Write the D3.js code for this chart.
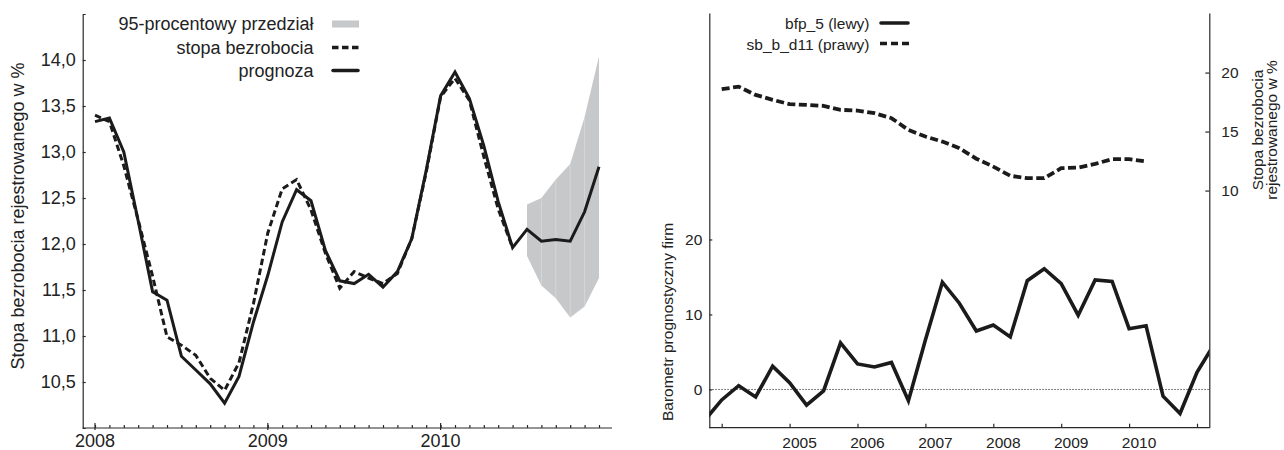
<!DOCTYPE html>
<html><head><meta charset="utf-8">
<script src="https://cdn.jsdelivr.net/npm/d3@7"></script>
<style>
html,body{margin:0;padding:0;background:#fff;}
svg{display:block;font-family:"Liberation Sans",Arial,sans-serif;}
</style></head>
<body>
<svg id="c" width="1284" height="450"></svg>
<script>
// ---------- LEFT CHART DATA (monthly, Jan 2008 .. Dec 2010) ----------
const monthsL = d3.range(36); // month index 0 = Jan 2008 ... 35 = Dec 2010
const yearTicksL = ["2008","2009","2010"];
const stopaBezrobocia = [13.40,13.33,12.85,12.26,11.65,10.99,10.90,10.79,10.54,10.41,10.71,11.35,
  12.12,12.60,12.70,12.37,11.90,11.52,11.70,11.63,11.57,11.68,12.06,12.78,
  13.60,13.80,13.56,12.95,12.38,11.96];
const prognoza = [13.33,13.37,13.00,12.25,11.48,11.39,10.78,10.63,10.48,10.27,10.56,11.15,
  11.66,12.24,12.59,12.47,11.93,11.60,11.57,11.67,11.53,11.70,12.06,12.80,
  13.61,13.87,13.58,13.07,12.46,11.96,12.16,12.03,12.05,12.03,12.35,12.84];
const bandStart = 30; // band begins at July 2010
const bandUpper = [12.43,12.50,12.70,12.87,13.38,14.04];
const bandLower = [11.87,11.55,11.41,11.20,11.32,11.63];
const yTicksL = [10.5,11.0,11.5,12.0,12.5,13.0,13.5,14.0];
const legendL = ["95-procentowy przedział","stopa bezrobocia","prognoza"];

// ---------- RIGHT CHART DATA (quarterly) ----------
const bfpStart = 2003.75;
const bfp5 = [-4.1,-1.4,0.5,-1.0,3.1,0.9,-2.1,-0.2,6.2,3.4,3.0,3.6,-1.5,6.6,14.3,11.5,7.8,
  8.6,7.0,14.5,16.1,14.1,9.9,14.6,14.4,8.1,8.5,-0.9,-3.2,2.3,6.0];
const sbStart = 2004.0;
const sbBd11 = [18.59,18.81,18.11,17.69,17.32,17.26,17.18,16.84,16.78,16.56,16.14,15.14,14.58,14.15,13.59,12.70,
  12.03,11.25,11.05,11.05,11.90,11.95,12.26,12.66,12.66,12.46];
const yearTicksR = [2004,2005,2006,2007,2008,2009,2010,2011];
const yearLabelsR = ["","2005","2006","2007","2008","2009","2010",""];
const yTicksRLeft = [0,10,20];
const yTicksRRight = [10,15,20];
const legendR = ["bfp_5 (lewy)","sb_b_d11 (prawy)"];

const svg = d3.select("#c");
const INK = "#1b1b1b", AX = "#2a2a2a", TXT = "#222";

// ================= LEFT CHART =================
{
  const x = d3.scaleLinear().domain([0, 36]).range([95, 613.4]);
  const y = d3.scaleLinear().domain([10, 14.5]).range([428, 14]);
  const g = svg.append("g");
  const fs = 18;

  // band
  const bandData = bandUpper.map((u,i)=>({d:monthsL[bandStart+i], u, l:bandLower[i]}));
  g.append("path").datum(bandData)
    .attr("d", d3.area().x(d=>x(d.d)).y0(d=>y(d.l)).y1(d=>y(d.u)))
    .attr("fill","#c7c8ca");
  g.selectAll("line.seam").data(bandData.slice(1,-1)).join("line")
    .attr("x1",d=>x(d.d)).attr("x2",d=>x(d.d)).attr("y1",d=>y(d.u)+1).attr("y2",d=>y(d.l)-1)
    .attr("stroke","#fff").attr("stroke-width",0.6).attr("stroke-opacity",0.45);

  // axes
  const ya = d3.axisLeft(y).tickValues(yTicksL).tickSizeInner(-3).tickSizeOuter(-3).tickPadding(7)
    .tickFormat(d=>d3.format(".1f")(d).replace(".",","));
  const yg = g.append("g").attr("transform","translate(82.7,0)").call(ya);
  yg.selectAll("text").attr("font-size",fs).attr("fill",TXT).attr("font-family","Liberation Sans, Arial");
  yg.selectAll("path,line").attr("stroke",AX).attr("stroke-width",1.2);

  const xa = d3.axisBottom(x).tickValues(monthsL).tickSizeInner(-3).tickSizeOuter(0).tickFormat("");
  const xg = g.append("g").attr("transform","translate(0,428)").call(xa);
  xg.selectAll("path,line").attr("stroke",AX).attr("stroke-width",1.2);
  xg.select("path.domain").attr("d", `M82.7,0H612`);
  // year ticks (longer) and labels
  const yrs = monthsL.filter(d=>d%12===0);
  xg.selectAll("line.yr").data(yrs).join("line").attr("class","yr")
    .attr("x1",d=>x(d)).attr("x2",d=>x(d)).attr("y1",-5).attr("y2",2)
    .attr("stroke",AX).attr("stroke-width",1.2);
  xg.selectAll("text.yl").data(yrs).join("text").attr("class","yl")
    .attr("x",d=>x(d)).attr("y",19).attr("font-size",fs).attr("fill",TXT)
    .text((d,i)=>yearTicksL[i]);

  // lines
  const line = d3.line().x((d,i)=>x(monthsL[i])).y(d=>y(d));
  g.append("path").datum(stopaBezrobocia).attr("d",line).attr("fill","none")
    .attr("stroke",INK).attr("stroke-width",3).attr("stroke-dasharray","6.5,3.5");
  g.append("path").datum(prognoza).attr("d",line).attr("fill","none")
    .attr("stroke",INK).attr("stroke-width",3);

  // y title
  g.append("text").attr("transform","translate(24,216) rotate(-90)")
    .attr("text-anchor","middle").attr("font-size",18).attr("fill",TXT)
    .text("Stopa bezrobocia rejestrowanego w %");

  // legend
  const rows = [24, 47.5, 70.5];
  const lg = g.append("g");
  legendL.forEach((t,i)=>{
    lg.append("text").attr("x",313.5).attr("y",rows[i]).attr("dy","0.35em")
      .attr("text-anchor","end").attr("font-size",18).attr("fill",TXT).text(t);
  });
  lg.append("rect").attr("x",332).attr("y",rows[0]-3.5).attr("width",27).attr("height",7).attr("fill","#c7c8ca");
  lg.append("line").attr("x1",332).attr("x2",359).attr("y1",rows[1]).attr("y2",rows[1])
    .attr("stroke",INK).attr("stroke-width",3.5).attr("stroke-dasharray","6.5,3.5");
  lg.append("line").attr("x1",333).attr("x2",358).attr("y1",rows[2]).attr("y2",rows[2])
    .attr("stroke",INK).attr("stroke-width",3.5).attr("stroke-linecap","round");
}

// ================= RIGHT CHART =================
{
  const L = 709.3, R = 1209.3, T = 13, B = 427.7;
  const x = d3.scaleLinear().domain([2004, 2005]).range([721.7, 789.6]);
  const yl = d3.scaleLinear().domain([-5.1, 50.2]).range([B, T]);
  const yr = d3.scaleLinear().domain([-10.1, 25.05]).range([B, T]);
  const g = svg.append("g");
  const fs = 15.5;

  svg.append("defs").append("clipPath").attr("id","clipR")
    .append("rect").attr("x",L).attr("y",T).attr("width",R-L).attr("height",B-T);

  // zero line
  g.append("line").attr("x1",L).attr("x2",R).attr("y1",yl(0)).attr("y2",yl(0))
    .attr("stroke","#555").attr("stroke-width",1).attr("stroke-dasharray","1.5,1.5");

  // axes
  const la = d3.axisLeft(yl).tickValues(yTicksRLeft).tickSizeInner(-3).tickSizeOuter(0).tickPadding(7);
  const lgA = g.append("g").attr("transform",`translate(${L},0)`).call(la);
  const ra = d3.axisRight(yr).tickValues(yTicksRRight).tickSizeInner(-4).tickSizeOuter(0).tickPadding(12);
  const rgA = g.append("g").attr("transform",`translate(${R},0)`).call(ra);
  const ba = d3.axisBottom(x).tickValues(yearTicksR).tickSizeInner(-4).tickSizeOuter(0).tickFormat("");
  const bgA = g.append("g").attr("transform",`translate(0,${B})`).call(ba);
  bgA.select("path.domain").attr("d",`M${L},0H${R}`);
  [lgA,rgA,bgA].forEach(a=>{
    a.selectAll("path,line").attr("stroke",AX).attr("stroke-width",1.2);
    a.selectAll("text").attr("font-size",fs).attr("fill",TXT).attr("font-family","Liberation Sans, Arial");
  });
  bgA.selectAll("text.yl").data(yearTicksR).join("text").attr("class","yl")
    .attr("x",d=>x(d)+10).attr("y",20).attr("text-anchor","middle")
    .attr("font-size",fs).attr("fill",TXT).text((d,i)=>yearLabelsR[i]);

  const cg = g.append("g").attr("clip-path","url(#clipR)");
  cg.append("path").datum(sbBd11)
    .attr("d", d3.line().x((d,i)=>x(sbStart+i*0.25)).y(d=>yr(d)))
    .attr("fill","none").attr("stroke",INK).attr("stroke-width",3.8).attr("stroke-dasharray","8,3.5");
  cg.append("path").datum(bfp5)
    .attr("d", d3.line().x((d,i)=>x(bfpStart+i*0.25)).y(d=>yl(d)))
    .attr("fill","none").attr("stroke",INK).attr("stroke-width",3.6);

  // titles
  g.append("text").attr("transform",`translate(673,322) rotate(-90)`)
    .attr("text-anchor","middle").attr("font-size",fs).attr("fill",TXT).text("Barometr prognostyczny firm");
  const rt = g.append("text").attr("transform",`translate(1258,130) rotate(-90)`)
    .attr("text-anchor","middle").attr("font-size",15.5).attr("fill",TXT);
  rt.append("tspan").attr("x",0).attr("dy","0.35em").text("Stopa bezrobocia");
  rt.append("tspan").attr("x",0).attr("dy","14").text("rejestrowanego w %");

  // legend
  const rows = [23.5, 44.5];
  legendR.forEach((t,i)=>{
    g.append("text").attr("x",869.5).attr("y",rows[i]).attr("dy","0.35em")
      .attr("text-anchor","end").attr("font-size",fs).attr("fill",TXT).text(t);
  });
  g.append("line").attr("x1",881).attr("x2",908).attr("y1",rows[0]-0.5).attr("y2",rows[0]-0.5)
    .attr("stroke",INK).attr("stroke-width",3.6).attr("stroke-linecap","round");
  g.append("line").attr("x1",880).attr("x2",909).attr("y1",rows[1]-1).attr("y2",rows[1]-1)
    .attr("stroke",INK).attr("stroke-width",3.6).attr("stroke-dasharray","7,4");
}
</script>
</body></html>
